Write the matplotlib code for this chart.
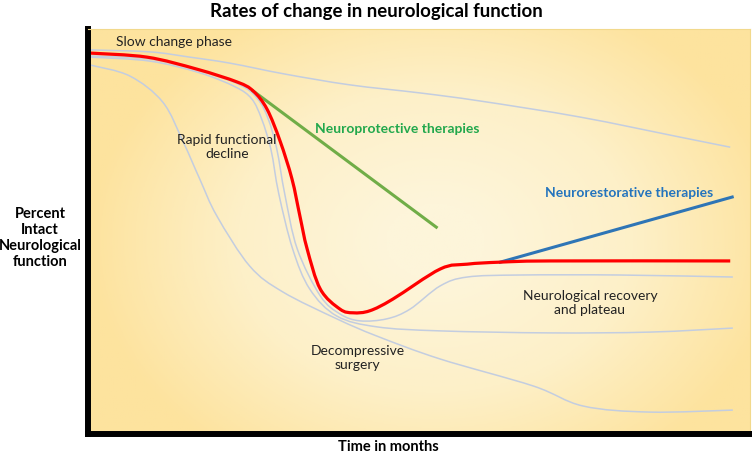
import matplotlib.pyplot as plt
import numpy as np
from matplotlib.path import Path
from matplotlib.patches import PathPatch
from matplotlib.colors import LinearSegmentedColormap

plt.rcParams['font.family'] = ['Lato', 'DejaVu Sans']

# curves (x = time, y = percent intact function)
red_x = [0, 8.5, 16.1, 22.2, 24.6, 26.7, 28.7, 30.5, 31.7, 32.8, 34.8, 37.8, 39.8, 42.3, 45.8, 53.0, 57.1, 62.1, 69.7, 97.0]
red_y = [94.0, 93.0, 90.0, 86.8, 84.6, 80.1, 72.1, 62.7, 53.5, 45.3, 35.3, 30.3, 29.4, 29.9, 32.8, 40.3, 41.5, 42.0, 42.3, 42.3]

green_x = [24.6, 52.4]
green_y = [84.6, 50.7]

blue_x = [62.1, 97.3]
blue_y = [42.0, 58.2]

gray_a_x = [0, 9.0, 15.0, 21.1, 29.4, 39.3, 49.9, 59.0, 74.2, 89.4, 97.0]
gray_a_y = [94.8, 94.3, 93.0, 91.5, 88.8, 86.1, 84.1, 82.1, 78.1, 73.1, 70.6]

gray_b_x = [0, 9.0, 16.5, 22.6, 25.3, 26.9, 28.2, 29.4, 31.3, 34.8, 37.8, 40.8, 44.9, 48.4, 53.0, 57.1, 65.1, 80.3, 97.4]
gray_b_y = [93.3, 92.5, 89.6, 86.1, 82.6, 77.6, 70.1, 59.0, 45.3, 33.6, 29.1, 27.4, 27.9, 30.3, 36.1, 38.3, 38.8, 38.8, 38.3]

gray_c_x = [0, 9.0, 16.5, 21.9, 24.4, 25.9, 27.3, 28.5, 30.6, 33.2, 37.3, 43.4, 53.0, 69.7, 84.8, 97.4]
gray_c_y = [93.0, 92.0, 89.1, 85.6, 82.6, 77.6, 70.1, 59.0, 45.3, 35.3, 28.6, 25.9, 24.9, 24.4, 24.6, 25.6]

gray_d_x = [0, 5.9, 10.9, 14.0, 16.5, 19.1, 24.1, 29.1, 37.3, 43.4, 53.0, 67.1, 74.7, 84.8, 97.4]
gray_d_y = [91.0, 88.3, 81.8, 71.9, 62.7, 53.5, 41.0, 34.6, 27.9, 23.6, 17.9, 11.2, 6.2, 4.7, 5.2]


def smooth_path(xs, ys):
    # catmull-rom through the points, written as cubic bezier segments
    p = np.column_stack([xs, ys]).astype(float)
    p = np.vstack([p[0], p, p[-1]])
    verts = [p[1]]
    codes = [Path.MOVETO]
    for i in range(1, len(p) - 2):
        c1 = p[i] + (p[i + 1] - p[i - 1]) / 6
        c2 = p[i + 1] - (p[i + 2] - p[i]) / 6
        verts += [c1, c2, p[i + 1]]
        codes += [Path.CURVE4] * 3
    return Path(verts, codes)


fig = plt.figure(figsize=(7.52, 4.56), dpi=100)
ax = fig.add_axes([88 / 752, 21 / 456, 662 / 752, 405 / 456])
ax.set_xlim(-0.45, 100)
ax.set_ylim(-0.75, 100)

# radial yellow background
gx, gy = np.meshgrid(np.linspace(-1, 1, 300), np.linspace(-1, 1, 200))
r = np.sqrt(((gx - 0.05) / 1.0) ** 2 + ((gy + 0.05) / 1.25) ** 2)
cmap = LinearSegmentedColormap.from_list('bg', ['#fdf5da', '#fdf0c8', '#fde39e'])
ax.imshow(r, extent=[-0.45, 100, -0.75, 100], cmap=cmap, vmin=0.15, vmax=1.05,
          aspect='auto', origin='lower', zorder=0)

for gxs, gys in [(gray_a_x, gray_a_y), (gray_b_x, gray_b_y), (gray_c_x, gray_c_y), (gray_d_x, gray_d_y)]:
    ax.add_patch(PathPatch(smooth_path(gxs, gys), fill=False, edgecolor='#c3cde0', lw=1.1, zorder=2))

ax.plot(green_x, green_y, color='#70ad47', lw=2.2, zorder=3)
ax.plot(blue_x, blue_y, color='#2e75b6', lw=2.2, zorder=3)
ax.add_patch(PathPatch(smooth_path(red_x, red_y), fill=False, edgecolor='#ff0000', lw=2.3, zorder=4))

ax.text(3.8, 97.0, 'Slow change phase', fontsize=10, ha='left', va='center', color='#222222')
ax.text(20.6, 70.9, 'Rapid functional\ndecline', fontsize=10, ha='center', va='center', color='#222222')
ax.text(34.0, 75.4, 'Neuroprotective therapies', fontsize=10, fontweight='bold', ha='left', va='center', color='#22a84c')
ax.text(68.9, 59.5, 'Neurorestorative therapies', fontsize=10, fontweight='bold', ha='left', va='center', color='#2474bd')
ax.text(75.7, 32.1, 'Neurological recovery\nand plateau', fontsize=10, ha='center', va='center', color='#222222')
ax.text(40.5, 18.4, 'Decompressive\nsurgery', fontsize=10, ha='center', va='center', color='#222222')

ax.set_xticks([])
ax.set_yticks([])
for side in ['left', 'bottom']:
    ax.spines[side].set_linewidth(4.3)
    ax.spines[side].set_color('black')
    ax.spines[side].set_capstyle('projecting')
for side in ['top', 'right']:
    ax.spines[side].set_linewidth(0.8)
    ax.spines[side].set_color('#f2d98c')

fig.text(376 / 752, 1 - 12 / 456, 'Rates of change in neurological function', fontsize=13.4,
         fontweight='bold', ha='center', va='center')
fig.text(40 / 752, 1 - 238 / 456, 'Percent\nIntact\nNeurological\nfunction', fontsize=10.5,
         fontweight='bold', ha='center', va='center', linespacing=1.2)
fig.text(388 / 752, 1 - 447 / 456, 'Time in months', fontsize=10.5, fontweight='bold',
         ha='center', va='center')

fig.savefig('out.png', dpi=100)
